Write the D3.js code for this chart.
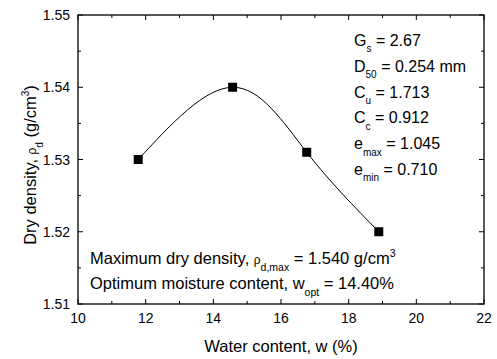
<!DOCTYPE html>
<html>
<head>
<meta charset="utf-8">
<script src="https://cdn.jsdelivr.net/npm/d3@7"></script>
<style>
  html, body { margin: 0; padding: 0; background: #fff; }
  svg { display: block; font-family: "Liberation Sans", Arial, sans-serif; }
</style>
</head>
<body>
<svg id="chart" width="497" height="359"></svg>
<script>
// Compaction test: water content (%) vs dry density (g/cm3)
const waterContent = [11.78, 14.57, 16.76, 18.89];
const dryDensity   = [1.530, 1.540, 1.531, 1.520];
const xTicks = [10, 12, 14, 16, 18, 20, 22];
const yTicks = [1.51, 1.52, 1.53, 1.54, 1.55];

const W = 497, H = 359;
const m = { left: 78, right: 13, top: 15, bottom: 55 };
const svg = d3.select("#chart");

const x = d3.scaleLinear().domain([10, 22]).range([m.left, W - m.right]);
const y = d3.scaleLinear().domain([1.51, 1.55]).range([H - m.bottom, m.top]);

const x0 = m.left, x1 = W - m.right, y0 = H - m.bottom, y1 = m.top;

// Minor ticks halfway between majors
const xMinor = d3.range(11, 22, 2);
const yMinor = [1.515, 1.525, 1.535, 1.545];

const tickG = svg.append("g").attr("stroke", "#000").attr("stroke-width", 1);
const major = 5, minor = 3;
xTicks.forEach(v => {
  tickG.append("line").attr("x1", x(v)).attr("x2", x(v)).attr("y1", y0).attr("y2", y0 - major);
  tickG.append("line").attr("x1", x(v)).attr("x2", x(v)).attr("y1", y1).attr("y2", y1 + major);
});
xMinor.forEach(v => {
  tickG.append("line").attr("x1", x(v)).attr("x2", x(v)).attr("y1", y0).attr("y2", y0 - minor);
  tickG.append("line").attr("x1", x(v)).attr("x2", x(v)).attr("y1", y1).attr("y2", y1 + minor);
});
yTicks.forEach(v => {
  tickG.append("line").attr("y1", y(v)).attr("y2", y(v)).attr("x1", x0).attr("x2", x0 + major);
  tickG.append("line").attr("y1", y(v)).attr("y2", y(v)).attr("x1", x1).attr("x2", x1 - major);
});
yMinor.forEach(v => {
  tickG.append("line").attr("y1", y(v)).attr("y2", y(v)).attr("x1", x0).attr("x2", x0 + minor);
  tickG.append("line").attr("y1", y(v)).attr("y2", y(v)).attr("x1", x1).attr("x2", x1 - minor);
});

// Frame
svg.append("rect")
  .attr("x", x0).attr("y", y1).attr("width", x1 - x0).attr("height", y0 - y1)
  .attr("fill", "none").attr("stroke", "#000").attr("stroke-width", 1.3);

// Tick labels
svg.append("g").selectAll("text").data(xTicks).join("text")
  .attr("x", d => x(d)).attr("y", y0 + 19)
  .attr("text-anchor", "middle").attr("font-size", 14)
  .text(d => d);
svg.append("g").selectAll("text").data(yTicks).join("text")
  .attr("x", x0 - 8).attr("y", d => y(d) + 5)
  .attr("text-anchor", "end").attr("font-size", 14)
  .text(d => d3.format(".2f")(d));

// Smooth curve through the measured points
const pts = waterContent.map((w, i) => [w, dryDensity[i]]);
svg.append("path")
  .datum(pts)
  .attr("fill", "none").attr("stroke", "#000").attr("stroke-width", 1)
  .attr("d", d3.line().x(d => x(d[0])).y(d => y(d[1])).curve(d3.curveNatural));

const sq = 9;
svg.append("g").selectAll("rect").data(pts).join("rect")
  .attr("x", d => x(d[0]) - sq / 2).attr("y", d => y(d[1]) - sq / 2)
  .attr("width", sq).attr("height", sq).attr("fill", "#000");

// Rich text helper: parts are [text, kind]; kind is "sub", "sup", "small" or empty
function rich(sel, px, py, parts, size, anchor, subSize) {
  const ss = subSize || 10;
  const t = sel.append("text").attr("x", px).attr("y", py)
    .attr("font-size", size).attr("text-anchor", anchor || "start");
  let shift = 0;
  parts.forEach(([s, kind]) => {
    const sp = t.append("tspan").text(s);
    let target = 0;
    if (kind === "sub") { target = size * 0.4; sp.attr("font-size", ss); }
    else if (kind === "sup") { target = -size * 0.45; sp.attr("font-size", ss); }
    else if (kind === "small") { sp.attr("font-size", size * 0.72); }
    sp.attr("dy", target - shift);
    shift = target;
  });
  return t;
}

// Material properties
const props = [
  [["G"], ["s", "sub"], [" = 2.67"]],
  [["D"], ["50", "sub"], [" = 0.254 mm"]],
  [["C"], ["u", "sub"], [" = 1.713"]],
  [["C"], ["c", "sub"], [" = 0.912"]],
  [["e"], ["max", "sub"], [" = 1.045"]],
  [["e"], ["min", "sub"], [" = 0.710"]]
];
props.forEach((p, i) => rich(svg, 354, 46 + i * 25.8, p, 16));

// Compaction results
rich(svg, 90, 264, [["Maximum dry density, "], ["ρ", "small"], ["d,max", "sub"], [" = 1.540 g/cm"], ["3", "sup"]], 16.5, "start", 10.5);
rich(svg, 90, 289, [["Optimum moisture content, w"], ["opt", "sub"], [" = 14.40%"]], 16.5, "start", 10.5);

// Axis titles
rich(svg, (x0 + x1) / 2, 352, [["Water content, w (%)"]], 16.5, "middle");
const yt = rich(svg, 0, 0, [["Dry density, "], ["ρ", "small"], ["d", "sub"], [" (g/cm"], ["3", "sup"], [")"]], 16.5, "middle");
yt.attr("transform", `translate(36, 165) rotate(-90)`);
</script>
</body>
</html>
